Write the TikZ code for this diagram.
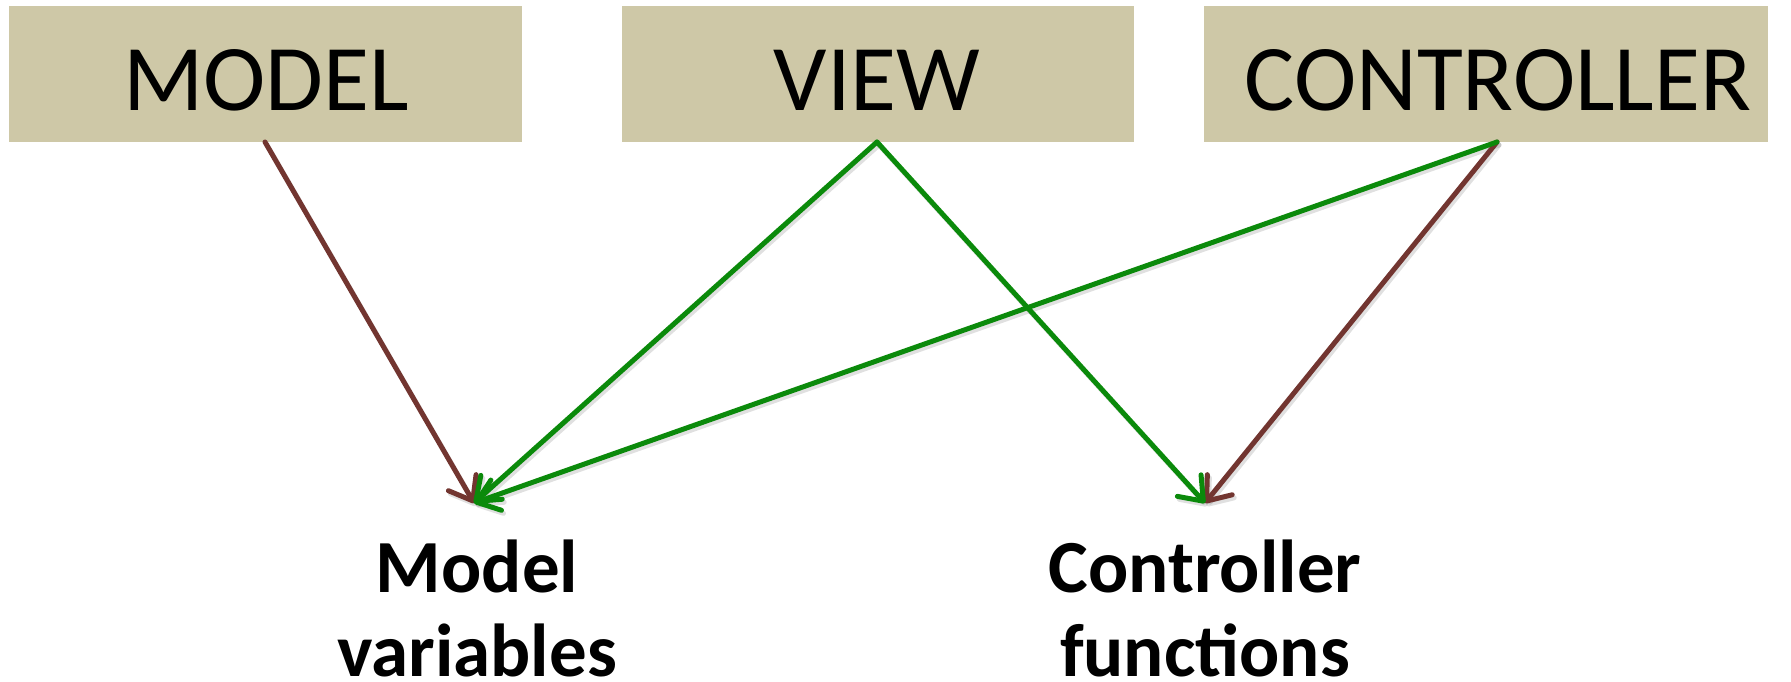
\documentclass[tikz,border=0pt]{standalone}
\usepackage{fontspec}
\setmainfont{Carlito}
\usetikzlibrary{arrows.meta}
\definecolor{boxfill}{HTML}{CEC8A7}
\definecolor{linkbrown}{HTML}{723530}
\definecolor{linkgreen}{HTML}{0B8A0B}
\begin{document}
\begin{tikzpicture}[x=1pt,y=-1pt,
  box/.style={fill=boxfill, draw=none, inner sep=0pt, minimum height=136pt},
  head/.style={anchor=base, inner sep=0pt, font=\fontsize{94}{110}\selectfont},
  lbl/.style={anchor=base, inner sep=0pt, align=center, font=\fontsize{75}{84}\selectfont\bfseries},
  link/.style={line width=5pt, line cap=round,
    -{Straight Barb[length=21pt,width=32pt,round]}},
  shade/.style={link, draw=black, opacity=0.12, transform canvas={shift={(2pt,-3pt)}}},
  brownlink/.style={link, draw=linkbrown},
  greenlink/.style={link, draw=linkgreen}]
\useasboundingbox (0,0) rectangle (1791,682);

% component boxes
\node[box, minimum width=513pt] (model) at (265.5,74) {};
\node[box, minimum width=512pt] (view)  at (878,74) {};
\node[box, minimum width=564pt] (ctrl)  at (1486,74) {};
\node[head] (modeltxt) at (266,111) {MODEL};
\node[head] (viewtxt)  at (877,111) {VIEW};
\node[head] (ctrltxt)  at (1498,111) {CONTROLLER};

% targets (base anchor sits on the last line)
\node[lbl] (mv) at (477,676) {Model\\variables};
\node[lbl] (cf) at (1205,676) {Controller\\functions};

% connector ends
\coordinate (ms) at (265,142);
\coordinate (vs) at (877,142);
\coordinate (cs) at (1497,142);
\coordinate (mvt) at (474,503);
\coordinate (cft) at (1205,503);

% soft shadows
\draw[shade] (ms) -- (mvt);
\draw[shade] (vs) -- (mvt);
\draw[shade] (cs) -- (mvt);
\draw[shade] (vs) -- (cft);
\draw[shade] (cs) -- (cft);

% links
\draw[brownlink] (ms) -- (mvt);
\draw[brownlink] (cs) -- (cft);
\draw[greenlink] (vs) -- (mvt);
\draw[greenlink] (vs) -- (cft);
\draw[greenlink] (cs) -- (mvt);
\end{tikzpicture}
\end{document}
